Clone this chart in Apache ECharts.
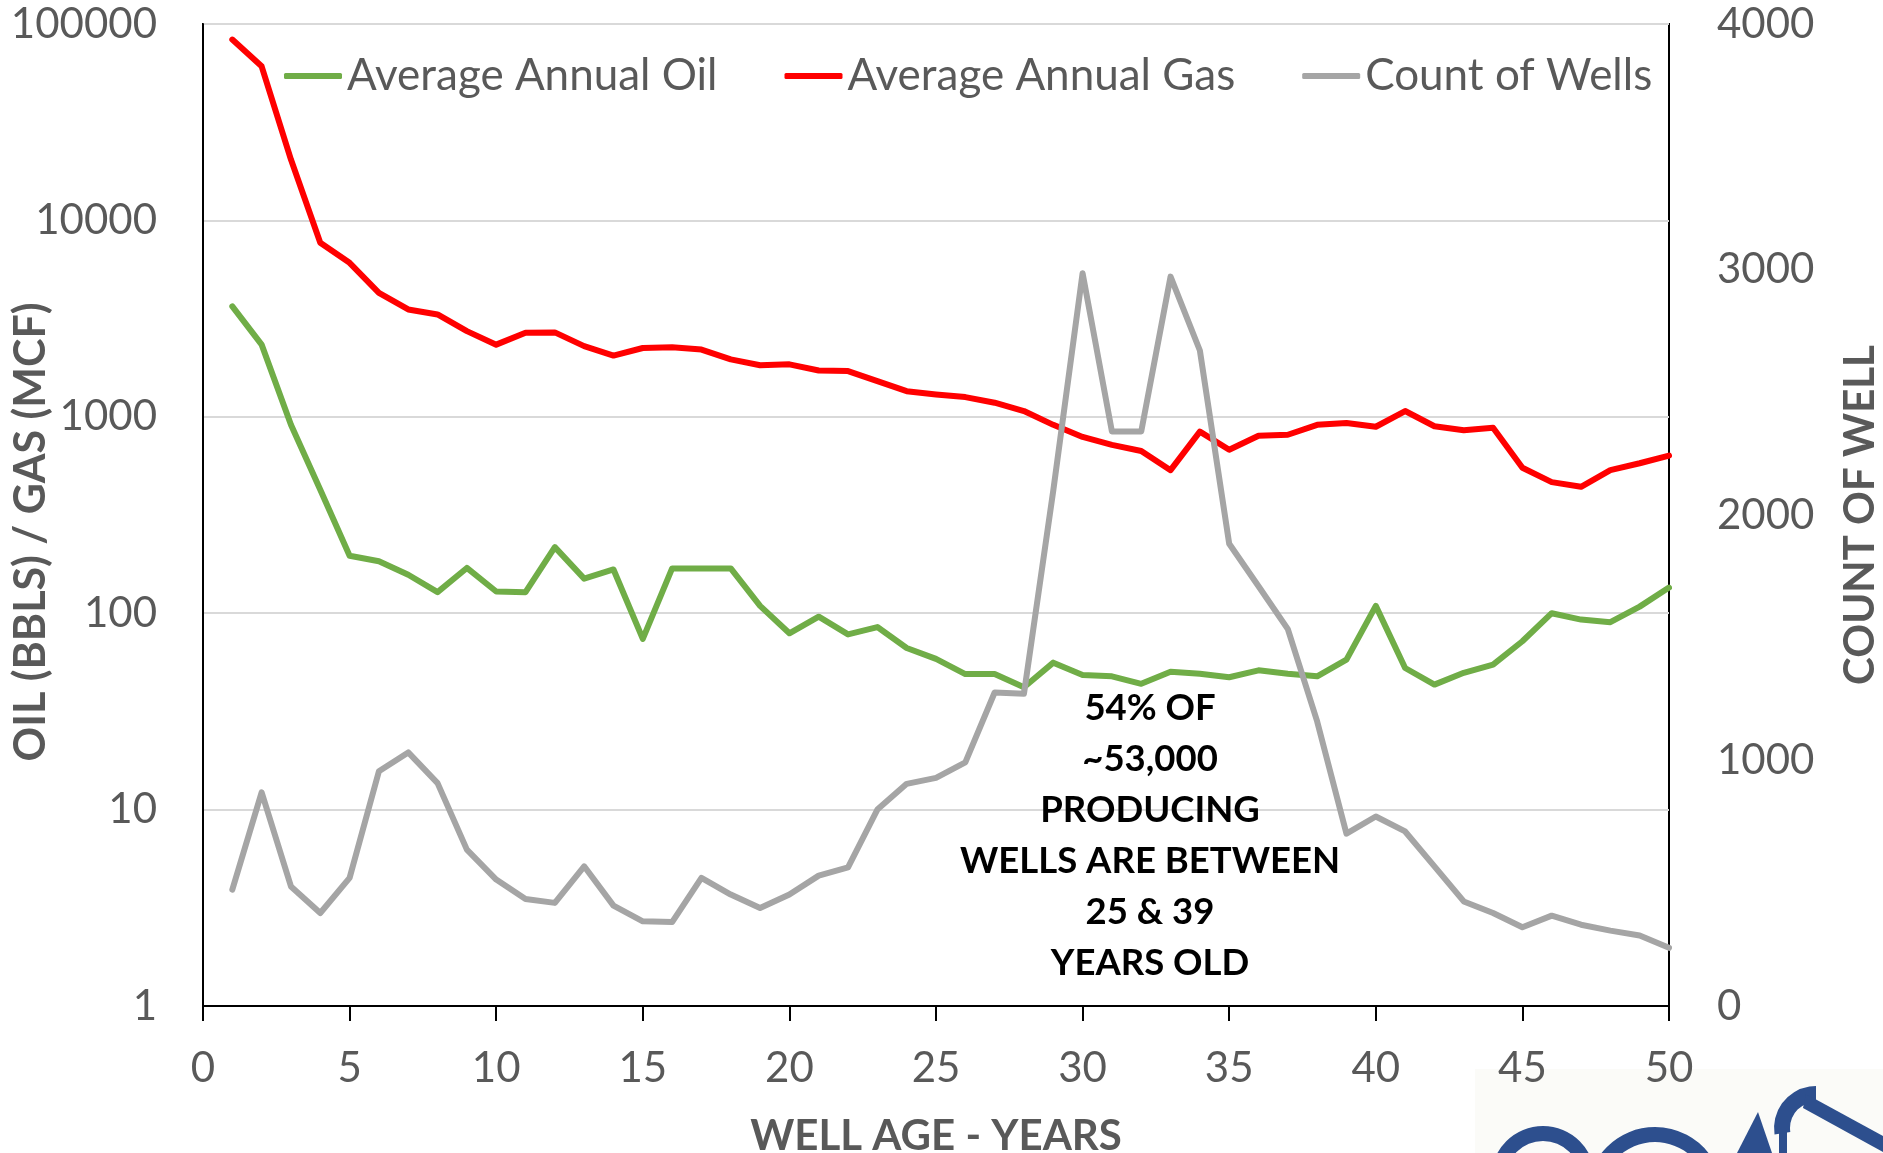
<!DOCTYPE html>
<html>
<head>
<meta charset="utf-8">
<title>Average annual production by well age</title>
<script src="https://cdn.jsdelivr.net/npm/echarts@6.0.0/dist/echarts.min.js"></script>
<style>
  html, body { margin: 0; padding: 0; background: #fff; }
  #chart { width: 1883px; height: 1153px; }
</style>
</head>
<body>
<div id="chart"></div>
<script>
// well age in years (x axis)
const wellAge = [1, 2, 3, 4, 5, 6, 7, 8, 9, 10, 11, 12, 13, 14, 15, 16, 17, 18, 19, 20,
  21, 22, 23, 24, 25, 26, 27, 28, 29, 30, 31, 32, 33, 34, 35, 36, 37, 38, 39, 40,
  41, 42, 43, 44, 45, 46, 47, 48, 49, 50];

// BBLS, left log axis
const avgOil = [3650, 2330, 910, 425, 196, 184, 157, 128, 170, 129, 128, 217, 150, 167, 74, 169, 169, 169, 109, 79,
  96, 78, 85, 66.5, 58.5, 49, 49, 42, 56, 48.5, 47.7, 43.7, 50.3, 49.2, 47.2, 51.2, 49.2, 47.7, 58, 109,
  52.6, 43.3, 49.7, 54.7, 72, 100, 92.8, 90, 108, 135];

// MCF, left log axis
const avgGas = [83300, 60900, 20400, 7700, 6080, 4280, 3520, 3320, 2730, 2330, 2680, 2690, 2290, 2050, 2240, 2260, 2200, 1960, 1830, 1850,
  1720, 1710, 1520, 1350, 1300, 1260, 1180, 1070, 910, 790, 720, 670, 535, 840, 680, 800, 810, 910, 930, 890,
  1070, 895, 855, 880, 550, 465, 440, 535, 580, 635];

// right axis
const wellCount = [474, 870, 487, 379, 522, 956, 1033, 908, 637, 515, 436, 420, 569, 409, 345, 342, 522, 454, 399, 454,
  531, 565, 800, 905, 929, 992, 1277, 1272, 2100, 2985, 2340, 2340, 2971, 2670, 1883, 1710, 1535, 1159, 702, 772,
  711, 569, 426, 379, 321, 368, 331, 307, 287, 237];

const seriesNames = ['Average Annual Oil', 'Average Annual Gas', 'Count of Wells'];
const annotationLines = ['54% OF', '~53,000', 'PRODUCING', 'WELLS ARE BETWEEN', '25 & 39', 'YEARS OLD'];
const annotationAt = [32.3, 1317]; // x = age, y = right axis units

const FONT = 'Lato, "Open Sans", sans-serif';
const GREY_TEXT = '#595959';

const toPairs = vals => wellAge.map((a, i) => [a, vals[i]]);

const chart = echarts.init(document.getElementById('chart'));

const option = {
  animation: false,
  backgroundColor: '#ffffff',
  textStyle: { fontFamily: FONT },
  grid: {
    left: 203, right: 214, top: 24, bottom: 147,
    show: true, borderColor: '#000', borderWidth: 2,
    outerBoundsMode: 'none'
  },
  legend: {
    left: 279, top: 49,
    itemGap: 67,
    itemWidth: 58, itemHeight: 6,
    icon: 'roundRect',
    textStyle: { fontSize: 44, color: GREY_TEXT, fontFamily: FONT },
    data: seriesNames
  },
  xAxis: {
    type: 'value',
    min: 0, max: 50, interval: 5,
    name: 'WELL AGE - YEARS',
    nameLocation: 'middle',
    nameGap: 109,
    nameTextStyle: { fontSize: 42, fontWeight: 'bold', color: GREY_TEXT, fontFamily: FONT },
    axisLine: { show: true, lineStyle: { color: '#000', width: 2 } },
    axisTick: { show: true, inside: false, length: 15, lineStyle: { color: '#000', width: 2 } },
    axisLabel: { fontSize: 42, color: GREY_TEXT, margin: 41 },
    splitLine: { show: false }
  },
  yAxis: [
    {
      type: 'log',
      logBase: 10,
      min: 1, max: 100000,
      name: 'OIL (BBLS) / GAS (MCF)',
      nameLocation: 'middle',
      nameRotate: 90,
      nameGap: 150,
      nameMoveOverlap: false,
      nameTextStyle: { fontSize: 43, fontWeight: 'bold', color: GREY_TEXT, fontFamily: FONT, padding: [0, 34, 0, 0] },
      axisLine: { show: true, lineStyle: { color: '#000', width: 2 } },
      axisTick: { show: false },
      axisLabel: { fontSize: 42, color: GREY_TEXT, margin: 46, formatter: v => String(Math.round(v)) },
      splitLine: { show: true, lineStyle: { color: '#d9d9d9', width: 2 } },
      minorTick: { show: false },
      minorSplitLine: { show: false }
    },
    {
      type: 'value',
      position: 'right',
      min: 0, max: 4000, interval: 1000,
      name: 'COUNT OF WELL',
      nameLocation: 'middle',
      nameRotate: 90,
      nameGap: 170,
      nameMoveOverlap: false,
      nameTextStyle: { fontSize: 42, fontWeight: 'bold', color: GREY_TEXT, fontFamily: FONT },
      axisLine: { show: false },
      axisTick: { show: false },
      axisLabel: { fontSize: 42, color: GREY_TEXT, margin: 48, formatter: v => String(v) },
      splitLine: { show: false }
    }
  ],
  series: [
    {
      name: seriesNames[0], type: 'line', yAxisIndex: 0,
      data: toPairs(avgOil), symbol: 'none',
      color: '#70ad47',
      lineStyle: { color: '#70ad47', width: 6, cap: 'round', join: 'round' }
    },
    {
      name: seriesNames[1], type: 'line', yAxisIndex: 0,
      data: toPairs(avgGas), symbol: 'none',
      color: '#ff0000',
      lineStyle: { color: '#ff0000', width: 6, cap: 'round', join: 'round' }
    },
    {
      name: seriesNames[2], type: 'line', yAxisIndex: 1,
      data: toPairs(wellCount), symbol: 'none',
      color: '#a5a5a5',
      lineStyle: { color: '#a5a5a5', width: 6, cap: 'round', join: 'round' }
    }
  ]
};

chart.setOption(option);

// partial company logo in the bottom right corner (decoration only)
function logoShapes() {
  const blue = '#2d4f8e';
  return [
    { type: 'rect', z: -1, shape: { x: 1475, y: 1069, width: 408, height: 84 }, style: { fill: '#fbfbf8' } },
    { type: 'sector', z: -1, shape: { cx: 1543, cy: 1178, r: 52, r0: 37, startAngle: Math.PI, endAngle: Math.PI * 2, clockwise: true }, style: { fill: blue } },
    { type: 'sector', z: -1, shape: { cx: 1655, cy: 1195, r: 68, r0: 53, startAngle: Math.PI, endAngle: Math.PI * 2 - 0.6, clockwise: true }, style: { fill: blue } },
    { type: 'polygon', z: -1, shape: { points: [[1737, 1153], [1758, 1112], [1772, 1153]] }, style: { fill: blue } },
    { type: 'rect', z: -1, shape: { x: 1779, y: 1128, width: 8, height: 25 }, style: { fill: blue } },
    { type: 'sector', z: -1, shape: { cx: 1816, cy: 1128, r: 42, r0: 26, startAngle: Math.PI * 0.95, endAngle: Math.PI * 1.5, clockwise: true }, style: { fill: blue } },
    { type: 'polygon', z: -1, shape: { points: [[1806, 1094], [1883, 1136], [1883, 1152], [1803, 1108]] }, style: { fill: blue } }
  ];
}

const p = chart.convertToPixel({ xAxisIndex: 0, yAxisIndex: 1 }, annotationAt);
chart.setOption({
  graphic: logoShapes().concat([{
    type: 'text',
    x: p[0], y: p[1],
    z: 10,
    style: {
      text: annotationLines.join('\n'),
      fill: '#000',
      fontFamily: FONT,
      fontWeight: 'bold',
      fontSize: 36.5,
      lineHeight: 51,
      align: 'center',
      verticalAlign: 'top'
    }
  }])
});

window.addEventListener('resize', () => chart.resize());
</script>
</body>
</html>
